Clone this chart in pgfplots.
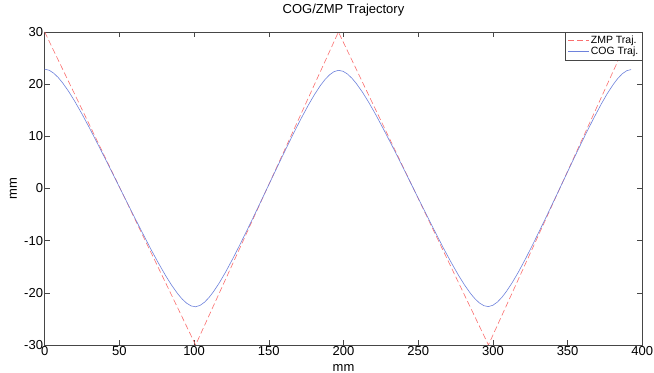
\documentclass[border=0pt]{standalone}
\usepackage{fontspec}
\setmainfont{Liberation Sans}
\usepackage{pgfplots}
\pgfplotsset{compat=1.18}
\definecolor{zmpc}{RGB}{250,110,110}
\definecolor{cogc}{RGB}{110,130,220}
\definecolor{axc}{RGB}{70,70,70}
\begin{document}
\begin{tikzpicture}
\begin{axis}[
  scale only axis, width=597.6pt, height=313pt,
  xmin=0, xmax=400, ymin=-30, ymax=30,
  xtick={0,50,...,400}, ytick={-30,-20,...,30},
  tick align=inside, xtick pos=both, ytick pos=both,
  major tick length=5pt,
  axis line style={axc, line width=0.6pt},
  tick style={axc, line width=0.6pt},
  /pgf/number format/assume math mode=true,
  every tick label/.append style={font=\fontsize{13}{13}\selectfont, text=black, inner sep=1.5pt},
  title={COG/ZMP Trajectory},
  title style={font=\fontsize{13}{13}\selectfont, at={(axis description cs:0.5,1.0415)}, anchor=base},
  xlabel={mm},
  xlabel style={font=\fontsize{13}{13}\selectfont, at={(axis description cs:0.5,-0.0831)}, anchor=base},
  ylabel={mm},
  ylabel style={font=\fontsize{13}{13}\selectfont, at={(axis description cs:-0.0464,0.5)}, anchor=base, rotate=0},
  legend style={at={(1,1)}, anchor=north east, draw=axc, fill=white, line width=0.6pt,
    font=\fontsize{10.5}{10.5}\selectfont, inner xsep=2.5pt, inner ysep=3pt,
    row sep=0pt,
    nodes={inner ysep=0.6pt, inner xsep=1.2pt, text height=7.5pt, text depth=2.2pt}},
  legend cell align=left,
  legend image code/.code={\draw[#1] (0pt,0pt) -- (21pt,0pt);},
]
\addplot[zmpc, line width=0.6pt, dash pattern=on 6pt off 3pt] coordinates {
(0,30)(101,-30)(196.6,30)(297,-30)(392.5,30)};
\addlegendentry{ZMP Traj.}
\addplot[cogc, line width=0.6pt] coordinates {
(0,22.87)(3,22.67)(6,22.11)(9,21.29)(12,20.25)(16,18.62)(20,16.77)(25,14.26)(30,11.59)(38,7.13)(48,1.44)(55,-2.59)(63,-7.15)(71,-11.60)(76,-14.24)(81,-16.73)(85,-18.56)(89,-20.17)(92,-21.19)(95,-21.99)(98,-22.51)(101,-22.67)
(104,-22.41)(107,-21.79)(110,-20.89)(113,-19.77)(117,-18.03)(121,-16.06)(126,-13.40)(131,-10.57)(139,-5.90)(149,0.12)(158.6,5.90)(166.6,10.60)(171.6,13.40)(176.6,16.06)(180.6,18.02)(184.6,19.77)(187.6,20.88)(190.6,21.78)(193.6,22.39)(196.6,22.65)
(199.6,22.48)(202.6,21.96)(205.6,21.15)(208.6,20.12)(212.6,18.50)(216.6,16.66)(221.6,14.15)(226.6,11.47)(234.6,7.02)(244.6,1.27)(249,-1.27)(259,-7.02)(267,-11.48)(272,-14.14)(277,-16.65)(281,-18.49)(285,-20.12)(288,-21.14)(291,-21.95)(294,-22.47)(297,-22.64)
(300,-22.38)(303,-21.77)(306,-20.87)(309,-19.75)(313,-18.01)(317,-16.05)(322,-13.38)(327,-10.55)(335,-5.86)(344.5,-0.13)(354.5,5.93)(362.5,10.66)(367.5,13.48)(372.5,16.18)(376.5,18.17)(380.5,19.93)(383.5,21.06)(386.5,21.97)(389.5,22.57)(392.5,22.80)};
\addlegendentry{COG Traj.}
\end{axis}
\pgfresetboundingbox
\path[use as bounding box] ([shift={(-44.7pt,-28pt)}]current axis.south west) rectangle ([shift={(11.7pt,32pt)}]current axis.north east);
\end{tikzpicture}
\end{document}
